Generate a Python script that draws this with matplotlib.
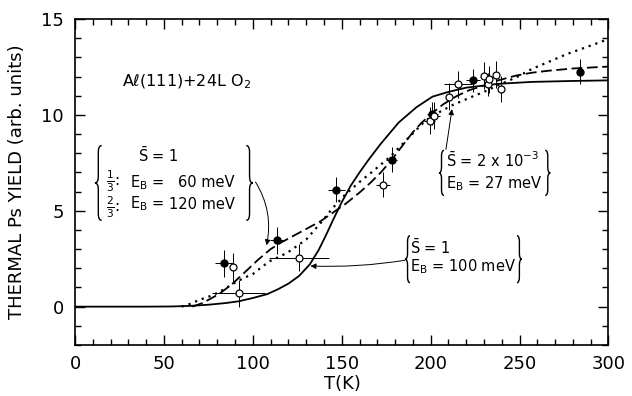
import matplotlib
matplotlib.use("Agg")
import matplotlib.pyplot as plt
from matplotlib.path import Path
from matplotlib.patches import PathPatch
from matplotlib.ticker import MultipleLocator

plt.rcParams['font.family'] = ['DejaVu Sans']
plt.rcParams['mathtext.default'] = 'regular'

# model curves
solid_T = [0, 40, 55, 65, 75, 85, 92, 100, 108, 114, 120, 126, 132, 137, 141, 145, 150,
           155, 160, 165, 172, 182, 192, 201, 210, 220, 238, 257, 280, 300]
solid_Y = [0, 0, 0.01, 0.04, 0.1, 0.19, 0.28, 0.45, 0.65, 0.9, 1.2, 1.6, 2.2, 2.95, 3.7, 4.5, 5.45,
           6.3, 7.0, 7.65, 8.5, 9.6, 10.4, 10.95, 11.2, 11.42, 11.62, 11.72, 11.77, 11.8]

dash_T = [66, 72, 81, 88, 95, 103, 110, 116, 123, 130, 138, 145, 152, 160, 166, 172, 178,
          185, 190, 195, 201, 207, 215, 222, 229, 238, 248, 257, 266, 280, 300]
dash_Y = [0, 0.2, 0.66, 1.15, 1.75, 2.45, 3.0, 3.35, 3.7, 4.05, 4.45, 4.9, 5.35, 5.95, 6.45, 7.0, 7.65,
          8.5, 9.1, 9.6, 10.1, 10.55, 11.0, 11.3, 11.5, 11.8, 12.05, 12.2, 12.3, 12.42, 12.52]

dot_T = [60, 64, 70, 76, 81, 89, 95, 100, 109, 116, 120, 130, 138, 145, 152, 160, 168, 177,
         187, 197, 205, 212, 222, 230, 238, 248, 257, 266, 276, 288, 300]
dot_Y = [0, 0.12, 0.35, 0.55, 0.75, 1.2, 1.5, 1.7, 2.35, 2.65, 2.85, 3.5, 4.35, 5.15, 5.85, 6.5, 7.1, 7.8,
         8.75, 9.7, 10.15, 10.5, 10.9, 11.2, 11.55, 11.95, 12.4, 12.75, 13.15, 13.55, 13.95]

# measured points (filled and open symbols)
filled_T = [84, 113.5, 147, 178, 201, 224, 284]
filled_Y = [2.25, 3.45, 6.1, 7.65, 10.05, 11.8, 12.25]
filled_xerr = [5, 4, 5, 3, 3, 4, 0]
filled_yerr = [0.7, 0.7, 0.65, 0.65, 0.6, 0.6, 0.65]

open_T = [89, 92, 126, 173, 199.5, 202, 210.5, 215.5, 230, 232, 233, 236.5, 239.5]
open_Y = [2.05, 0.7, 2.55, 6.35, 9.7, 9.95, 10.95, 11.6, 12.05, 11.6, 11.85, 12.1, 11.35]
open_xerr = [0, 15, 17, 4, 3, 3, 0, 8, 0, 0, 0, 0, 0]
open_yerr = [0.75, 0.7, 0.7, 0.65, 0.7, 0.7, 0.7, 0.7, 0.7, 0.6, 0.7, 0.7, 0.7]


def brace(ax, x0, x1, y0, y1, r, left=True):
    """draws a curly brace inside the box x0..x1, y0..y1 (data coords)"""
    ym = (y0 + y1) / 2.0
    xm = (x0 + x1) / 2.0
    if left:
        xo, xi = x1, x0
    else:
        xo, xi = x0, x1
    verts = [(xo, y1), (xm, y1), (xm, y1 - r), (xm, ym + r), (xm, ym), (xi, ym),
             (xm, ym), (xm, ym - r), (xm, y0 + r), (xm, y0), (xo, y0)]
    codes = [Path.MOVETO, Path.CURVE3, Path.CURVE3, Path.LINETO, Path.CURVE3, Path.CURVE3,
             Path.CURVE3, Path.CURVE3, Path.LINETO, Path.CURVE3, Path.CURVE3]
    ax.add_patch(PathPatch(Path(verts, codes), fill=False, lw=1.0, ec='k'))


def arrow(ax, start, end, rad):
    ax.annotate("", xy=end, xytext=start,
                arrowprops=dict(arrowstyle='-|>', lw=0.7, color='k', mutation_scale=8,
                                shrinkA=0, shrinkB=0,
                                connectionstyle="arc3,rad=%s" % rad))


fig = plt.figure(figsize=(6.32, 3.96), dpi=100)
ax = fig.add_axes([0.1187, 0.1288, 0.8441, 0.8232])

ax.plot(solid_T, solid_Y, '-', color='k', lw=1.3)
ax.plot(dash_T, dash_Y, color='k', lw=1.3, linestyle=(0, (6, 2.5)))
ax.plot(dot_T, dot_Y, color='k', lw=1.6, linestyle=(0, (1, 2.2)))

ax.errorbar(filled_T, filled_Y, xerr=filled_xerr, yerr=filled_yerr, fmt='o', ms=5,
            mfc='k', mec='k', ecolor='k', elinewidth=0.7, capsize=0, zorder=4)
ax.errorbar(open_T, open_Y, xerr=open_xerr, yerr=open_yerr, fmt='o', ms=5,
            mfc='white', mec='k', mew=0.9, ecolor='k', elinewidth=0.7, capsize=0, zorder=5)

ax.set_xlim(0, 300)
ax.set_ylim(-2, 15)
ax.xaxis.set_major_locator(MultipleLocator(50))
ax.xaxis.set_minor_locator(MultipleLocator(10))
ax.yaxis.set_major_locator(MultipleLocator(5))
ax.yaxis.set_minor_locator(MultipleLocator(1))
ax.tick_params(which='both', direction='in', top=True, right=True, width=1.0)
ax.tick_params(which='major', length=7, labelsize=13)
ax.tick_params(which='minor', length=4)
ax.tick_params(axis='y', which='major', pad=8)
ax.tick_params(axis='x', which='major', pad=7)
for s in ax.spines.values():
    s.set_linewidth(1.2)

ax.set_xlabel("T(K)", fontsize=13)
ax.set_ylabel("THERMAL Ps YIELD (arb. units)", fontsize=13)
ax.xaxis.set_label_coords(0.502, -0.092)
ax.yaxis.set_label_coords(-0.092, 0.5)

ax.text(26.4, 11.75, "A\u2113(111)+24L O$_2$", fontsize=11.5, va='center', ha='left')

# left box: two-component fit
fs = 10.5
brace(ax, 11.2, 15.0, 4.5, 8.4, 0.35, left=True)
brace(ax, 96.3, 100.0, 4.5, 8.4, 0.35, left=False)
ax.text(35.3, 7.86, r"$\bar{S}$ = 1", fontsize=fs, va='center')
ax.text(17.2, 6.55, r"$\frac{1}{3}$:", fontsize=11, va='center')
ax.text(30.8, 6.49, "E$_B$ =", fontsize=fs, va='center')
ax.text(89.7, 6.49, "60 meV", fontsize=fs, va='center', ha='right')
ax.text(17.2, 5.2, r"$\frac{2}{3}$:", fontsize=11, va='center')
ax.text(30.8, 5.35, "E$_B$ =", fontsize=fs, va='center')
ax.text(89.7, 5.35, "120 meV", fontsize=fs, va='center', ha='right')
arrow(ax, (101.5, 6.5), (107.7, 3.2), -0.2)

# right box
brace(ax, 204.7, 207.5, 5.8, 8.15, 0.3, left=True)
brace(ax, 264.4, 267.3, 5.8, 8.15, 0.3, left=False)
ax.text(208.6, 7.6, r"$\bar{S}$ = 2 x 10$^{-3}$", fontsize=fs, va='center')
ax.text(208.6, 6.39, "E$_B$ = 27 meV", fontsize=fs, va='center')
arrow(ax, (208.6, 8.2), (212.0, 10.3), 0.0)

# lower box
brace(ax, 185.6, 188.4, 1.25, 3.7, 0.3, left=True)
brace(ax, 248.5, 251.3, 1.25, 3.7, 0.3, left=False)
ax.text(188.6, 3.08, r"$\bar{S}$ = 1", fontsize=fs, va='center')
ax.text(188.6, 2.1, "E$_B$ = 100 meV", fontsize=fs, va='center')
arrow(ax, (185.6, 2.42), (132.4, 2.12), -0.05)

fig.savefig("out.png", dpi=100)
